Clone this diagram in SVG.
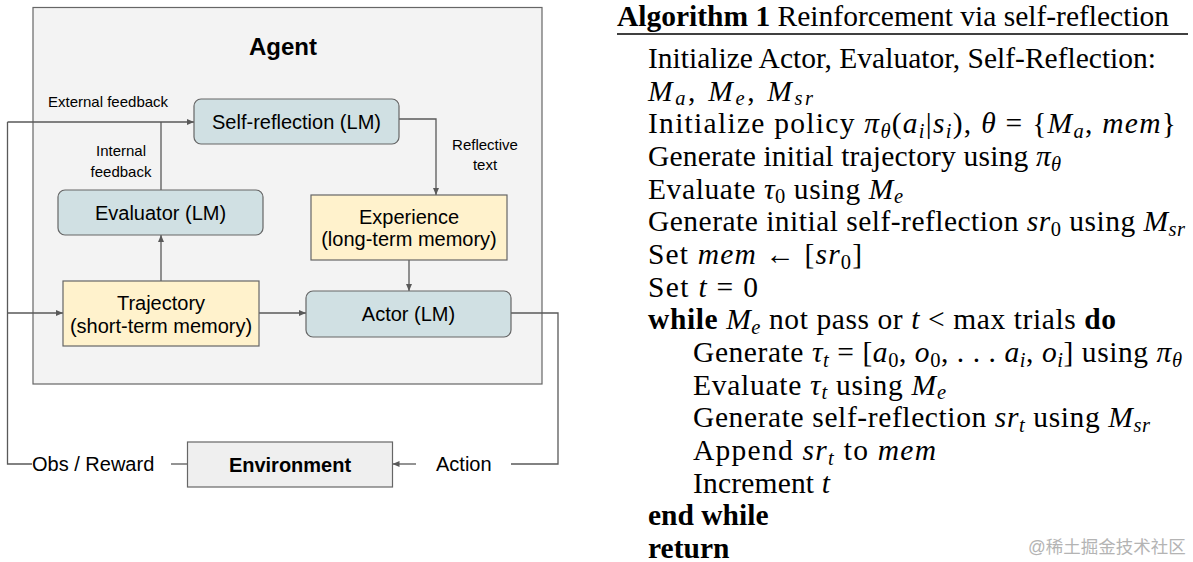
<svg xmlns="http://www.w3.org/2000/svg" width="1193" height="562" viewBox="0 0 1193 562">
<style>
.sans{font-family:"Liberation Sans",Arial,sans-serif;fill:#000}
.lbl{font-size:20px}
.small{font-size:15px}
.bold{font-weight:bold}
.lm{fill:#d0e0e3;stroke:#666;stroke-width:1.2}
.mem{fill:#fff2cc;stroke:#666;stroke-width:1.2}
.env{fill:#efefef;stroke:#666;stroke-width:1.2}
.conn path{fill:none;stroke:#595959;stroke-width:1.3}
.alg{font-family:"Liberation Serif","Times New Roman",serif;font-size:29.5px;fill:#000}
.i{font-style:italic}
.s{font-size:20.5px}
.b{font-weight:bold}
.wm{font-family:"Liberation Sans","Noto Sans CJK SC",sans-serif;font-size:17.5px;fill:#b4b4b4}
</style>
<defs>
<marker id="arr" markerWidth="8" markerHeight="8" refX="7" refY="4" orient="auto" markerUnits="userSpaceOnUse">
<path d="M0,1 L7,4 L0,7 Z" fill="#595959"/>
</marker>
</defs>
<rect width="1193" height="562" fill="#fff"/>

<g id="agent">
<rect x="33" y="7.5" width="509" height="376.5" fill="#f3f3f3" stroke="#666" stroke-width="1.2"/>
<text class="sans bold" x="283" y="55" font-size="24" text-anchor="middle">Agent</text>
</g>

<g class="conn" id="connectors">
<path d="M7.5,122 H194" marker-end="url(#arr)"/>
<path d="M7.5,122 V464 H32"/>
<path d="M7.5,313 H63" marker-end="url(#arr)"/>
<path d="M161,190 V122"/>
<path d="M161,281 V235" marker-end="url(#arr)"/>
<path d="M399,119 H436 V195" marker-end="url(#arr)"/>
<path d="M409,260 V291" marker-end="url(#arr)"/>
<path d="M259,313 H306" marker-end="url(#arr)"/>
<path d="M511,313 H558 V464 H511"/>
<path d="M416,464 H392.5" marker-end="url(#arr)"/>
<path d="M171,464 H187.5"/>
</g>

<g id="self-reflection">
<rect class="lm" x="194" y="99" width="205" height="45" rx="7"/>
<text class="sans lbl" x="296.5" y="129" text-anchor="middle">Self-reflection (LM)</text>
</g>
<g id="evaluator">
<rect class="lm" x="58" y="190" width="205" height="45" rx="7"/>
<text class="sans lbl" x="160.5" y="220" text-anchor="middle">Evaluator (LM)</text>
</g>
<g id="experience">
<rect class="mem" x="311" y="195" width="196" height="65"/>
<text class="sans lbl" x="409" y="224" text-anchor="middle">Experience</text>
<text class="sans lbl" x="409" y="246" text-anchor="middle">(long-term memory)</text>
</g>
<g id="trajectory">
<rect class="mem" x="63" y="281" width="196" height="65"/>
<text class="sans lbl" x="161" y="310" text-anchor="middle">Trajectory</text>
<text class="sans lbl" x="161" y="333" text-anchor="middle">(short-term memory)</text>
</g>
<g id="actor">
<rect class="lm" x="306" y="291" width="205" height="46" rx="7"/>
<text class="sans lbl" x="408.5" y="321" text-anchor="middle">Actor (LM)</text>
</g>
<g id="environment">
<rect class="env" x="187.5" y="442" width="205" height="45"/>
<text class="sans lbl bold" x="290" y="472" text-anchor="middle">Environment</text>
</g>

<g id="labels">
<text class="sans small" x="48" y="107" font-size="15.5">External feedback</text>
<text class="sans small" x="121" y="156" text-anchor="middle">Internal</text>
<text class="sans small" x="121" y="177" text-anchor="middle">feedback</text>
<text class="sans small" x="485" y="150" text-anchor="middle">Reflective</text>
<text class="sans small" x="485" y="170" text-anchor="middle">text</text>
<text class="sans lbl" x="32" y="471">Obs / Reward</text>
<text class="sans lbl" x="436" y="471">Action</text>
</g>

<g id="algorithm">
<text class="alg" x="617" y="25.5" font-size="29"><tspan class="b">Algorithm 1</tspan> Reinforcement via self-reflection</text>
<line x1="617" y1="34" x2="1188" y2="34" stroke="#000" stroke-width="1.3"/>
<text class="alg" x="648" y="68">Initialize Actor, Evaluator, Self-Reflection:</text>
<text class="alg" x="648" y="100.7" textLength="165" lengthAdjust="spacing"><tspan class="i">M</tspan><tspan class="s i" dy="4.5">a</tspan><tspan dy="-4.5">, </tspan><tspan class="i">M</tspan><tspan class="s i" dy="4.5">e</tspan><tspan dy="-4.5">, </tspan><tspan class="i">M</tspan><tspan class="s i" dy="4.5">sr</tspan></text>
<text class="alg" x="648" y="133.4" textLength="528" lengthAdjust="spacing">Initialize policy <tspan class="i">π</tspan><tspan class="s i" dy="4.5">θ</tspan><tspan dy="-4.5">(</tspan><tspan class="i">a</tspan><tspan class="s i" dy="4.5">i</tspan><tspan dy="-4.5">|</tspan><tspan class="i">s</tspan><tspan class="s i" dy="4.5">i</tspan><tspan dy="-4.5">), </tspan><tspan class="i">θ</tspan> = {<tspan class="i">M</tspan><tspan class="s i" dy="4.5">a</tspan><tspan dy="-4.5">, </tspan><tspan class="i">mem</tspan>}</text>
<text class="alg" x="648" y="166" textLength="413" lengthAdjust="spacing">Generate initial trajectory using <tspan class="i">π</tspan><tspan class="s i" dy="4.5">θ</tspan></text>
<text class="alg" x="648" y="198.7" textLength="255" lengthAdjust="spacing">Evaluate <tspan class="i">τ</tspan><tspan class="s" dy="4.5">0</tspan><tspan dy="-4.5"> using </tspan><tspan class="i">M</tspan><tspan class="s i" dy="4.5">e</tspan></text>
<text class="alg" x="648" y="231.4" textLength="537" lengthAdjust="spacing">Generate initial self-reflection <tspan class="i">sr</tspan><tspan class="s" dy="4.5">0</tspan><tspan dy="-4.5"> using </tspan><tspan class="i">M</tspan><tspan class="s i" dy="4.5">sr</tspan></text>
<text class="alg" x="648" y="264" textLength="214" lengthAdjust="spacing">Set <tspan class="i">mem</tspan> ← [<tspan class="i">sr</tspan><tspan class="s" dy="4.5">0</tspan><tspan dy="-4.5">]</tspan></text>
<text class="alg" x="648" y="296.7" textLength="110" lengthAdjust="spacing">Set <tspan class="i">t</tspan> = 0</text>
<text class="alg" x="648" y="329.4" textLength="468" lengthAdjust="spacing"><tspan class="b">while</tspan> <tspan class="i">M</tspan><tspan class="s i" dy="4.5">e</tspan><tspan dy="-4.5"> not pass or </tspan><tspan class="i">t</tspan> &lt; max trials <tspan class="b">do</tspan></text>
<text class="alg" x="693" y="362" textLength="489" lengthAdjust="spacing">Generate <tspan class="i">τ</tspan><tspan class="s i" dy="4.5">t</tspan><tspan dy="-4.5"> = [</tspan><tspan class="i">a</tspan><tspan class="s" dy="4.5">0</tspan><tspan dy="-4.5">, </tspan><tspan class="i">o</tspan><tspan class="s" dy="4.5">0</tspan><tspan dy="-4.5">, . . . </tspan><tspan class="i">a</tspan><tspan class="s i" dy="4.5">i</tspan><tspan dy="-4.5">, </tspan><tspan class="i">o</tspan><tspan class="s i" dy="4.5">i</tspan><tspan dy="-4.5">] using </tspan><tspan class="i">π</tspan><tspan class="s i" dy="4.5">θ</tspan></text>
<text class="alg" x="693" y="394.7" textLength="253" lengthAdjust="spacing">Evaluate <tspan class="i">τ</tspan><tspan class="s i" dy="4.5">t</tspan><tspan dy="-4.5"> using </tspan><tspan class="i">M</tspan><tspan class="s i" dy="4.5">e</tspan></text>
<text class="alg" x="693" y="427.4" textLength="457" lengthAdjust="spacing">Generate self-reflection <tspan class="i">sr</tspan><tspan class="s i" dy="4.5">t</tspan><tspan dy="-4.5"> using </tspan><tspan class="i">M</tspan><tspan class="s i" dy="4.5">sr</tspan></text>
<text class="alg" x="693" y="460" textLength="243" lengthAdjust="spacing">Append <tspan class="i">sr</tspan><tspan class="s i" dy="4.5">t</tspan><tspan dy="-4.5"> to </tspan><tspan class="i">mem</tspan></text>
<text class="alg" x="693" y="492.7" textLength="137" lengthAdjust="spacing">Increment <tspan class="i">t</tspan></text>
<text class="alg b" x="648" y="525.4">end while</text>
<text class="alg b" x="648" y="558">return</text>
</g>

<text class="wm" x="1028" y="553">@稀土掘金技术社区</text>
</svg>
